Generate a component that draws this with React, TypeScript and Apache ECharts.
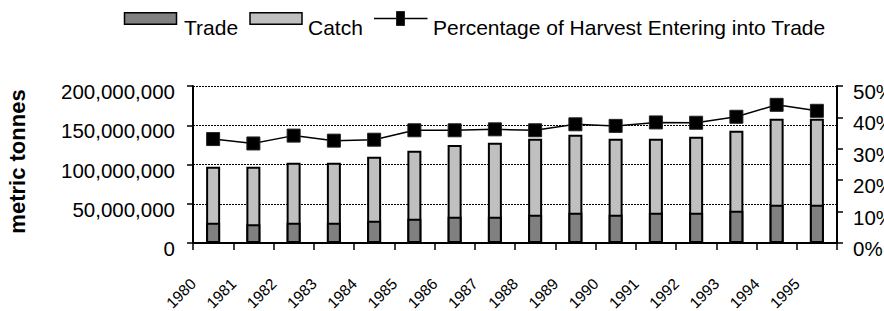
import React, { useEffect, useRef } from "react";
import * as echarts from "echarts";

const years = ["1980", "1981", "1982", "1983", "1984", "1985", "1986", "1987", "1988", "1989", "1990", "1991", "1992", "1993", "1994", "1995"];
const tradeTonnes = [25900000, 23800000, 25900000, 25900000, 28400000, 31000000, 33500000, 33500000, 36100000, 38600000, 36100000, 38600000, 38600000, 41100000, 48800000, 48800000];
const catchTonnes = [97200000, 97200000, 102300000, 102300000, 109900000, 117600000, 124800000, 127800000, 132900000, 138000000, 132900000, 132900000, 135400000, 143100000, 158300000, 158300000];
const harvestTradedPct = [33.1, 31.7, 34.2, 32.6, 32.9, 35.9, 35.9, 36.2, 35.9, 37.8, 37.3, 38.4, 38.3, 40.2, 44.0, 42.1];
const leftTicks = { min: 0, max: 200000000, interval: 50000000 };
const rightTicks = { min: 0, max: 50, interval: 10 };

const FONT = "'Liberation Sans', Arial, sans-serif";

function fmtThousands(v: number): string {
  return String(Math.round(v)).replace(/\B(?=(\d{3})+(?!\d))/g, ",");
}

export default function App() {
  const ref = useRef<HTMLDivElement>(null);
  useEffect(() => {
    if (!ref.current) return;
    const chart = echarts.init(ref.current, null, { renderer: "svg" });
    const axisLine = { show: true, lineStyle: { color: "#000", width: 2 } };
    const labelShift = 20;
    chart.setOption({
      animation: false,
      backgroundColor: "#fff",
      textStyle: { fontFamily: FONT },
      grid: [
        { left: 193, right: 47, top: 86, bottom: 68, containLabel: false, outerBoundsMode: "none" },
        { left: 193 - labelShift, right: 47 + labelShift, top: 86, bottom: 68, containLabel: false, outerBoundsMode: "none" },
      ],
      xAxis: [
        {
          type: "category",
          data: years,
          gridIndex: 0,
          boundaryGap: true,
          axisLine,
          axisTick: { show: true, length: 7, lineStyle: { color: "#000", width: 1.5 } },
          axisLabel: { show: false },
          splitLine: { show: false },
        },
        {
          type: "category",
          data: years,
          gridIndex: 1,
          boundaryGap: true,
          axisLine: { show: false },
          axisTick: { show: false },
          axisLabel: {
            rotate: 45,
            fontSize: 15.5,
            color: "#000",
            fontFamily: FONT,
            margin: 38,
            interval: 0,
          },
          splitLine: { show: false },
        },
      ],
      yAxis: [
        {
          type: "value",
          gridIndex: 0,
          min: leftTicks.min,
          max: leftTicks.max,
          interval: leftTicks.interval,
          position: "left",
          axisLine,
          axisTick: { show: true, length: 6, lineStyle: { color: "#000", width: 1.5 } },
          axisLabel: {
            fontSize: 20.5,
            color: "#000",
            fontFamily: FONT,
            margin: 18,
            verticalAlign: "top",
            lineHeight: 11,
            formatter: (v: number) => fmtThousands(v),
          },
          splitLine: { show: true, lineStyle: { color: "#000", width: 1, type: [2, 1] } },
        },
        {
          type: "value",
          gridIndex: 0,
          min: rightTicks.min,
          max: rightTicks.max,
          interval: rightTicks.interval,
          position: "right",
          axisLine,
          axisTick: { show: true, length: 6, lineStyle: { color: "#000", width: 1.5 } },
          axisLabel: {
            fontSize: 20.5,
            color: "#000",
            fontFamily: FONT,
            margin: 16,
            verticalAlign: "top",
            lineHeight: 11,
            formatter: "{value}%",
          },
          splitLine: { show: false },
        },
        {
          type: "value",
          gridIndex: 1,
          min: 0,
          max: 1,
          show: false,
        },
      ],
      series: [
        {
          name: "Catch",
          type: "bar",
          data: catchTonnes,
          barWidth: 14,
          barGap: "-100%",
          itemStyle: { color: "#c0c0c0", borderColor: "#000", borderWidth: 2 },
          z: 2,
        },
        {
          name: "Trade",
          type: "bar",
          data: tradeTonnes,
          barWidth: 14,
          barGap: "-100%",
          itemStyle: { color: "#808080", borderColor: "#000", borderWidth: 2 },
          z: 3,
        },
        {
          name: "Percentage of Harvest Entering into Trade",
          type: "line",
          yAxisIndex: 1,
          data: harvestTradedPct,
          symbol: "rect",
          symbolSize: 13,
          itemStyle: { color: "#000", borderColor: "#222", borderWidth: 1 },
          lineStyle: { color: "#000", width: 1.5 },
          z: 5,
        },
      ],
      graphic: [
        { type: "rect", shape: { x: 124.5, y: 12.7, width: 52, height: 11.6 }, style: { fill: "#808080", stroke: "#000", lineWidth: 1.5 } },
        { type: "text", x: 184, y: 27.6, style: { text: "Trade", fontSize: 21, fontFamily: FONT, fill: "#000", align: "left", verticalAlign: "middle" } },
        { type: "rect", shape: { x: 250, y: 12.7, width: 52, height: 11.6 }, style: { fill: "#c0c0c0", stroke: "#000", lineWidth: 1.5 } },
        { type: "text", x: 308, y: 27.6, style: { text: "Catch", fontSize: 21, fontFamily: FONT, fill: "#000", align: "left", verticalAlign: "middle" } },
        { type: "line", shape: { x1: 374, y1: 18.5, x2: 427.5, y2: 18.5 }, style: { stroke: "#000", lineWidth: 1.5 } },
        { type: "rect", shape: { x: 396.5, y: 11.5, width: 8, height: 14 }, style: { fill: "#000", stroke: "#222", lineWidth: 1 } },
        { type: "text", x: 433, y: 27.6, style: { text: "Percentage of Harvest Entering into Trade", fontSize: 21, fontFamily: FONT, fill: "#000", align: "left", verticalAlign: "middle" } },
        { type: "text", x: 17.5, y: 161.5, rotation: Math.PI / 2, style: { text: "metric tonnes", fontSize: 22, fontWeight: "bold", fontFamily: FONT, fill: "#000", align: "center", verticalAlign: "middle" } },
      ],
    });
    return () => chart.dispose();
  }, []);
  return <div ref={ref} style={{ position: "fixed", left: 0, top: 0, width: 884, height: 311 }} />;
}
